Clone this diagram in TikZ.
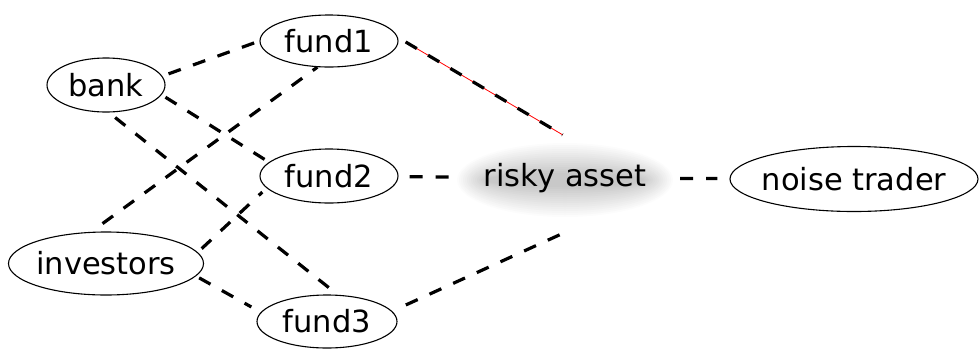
\documentclass[tikz,border=0pt]{standalone}
\usepackage{fontspec}
\setmainfont{DejaVu Sans}
\usetikzlibrary{shapes.geometric}
% a label that takes no width, so the ellipse size comes from the minimum sizes alone
\newcommand\flatlabel[1]{\makebox[0pt][c]{#1}}
\begin{document}
\begin{tikzpicture}[x=1bp,y=-1bp,
  lbl/.style={font=\fontsize{30.5bp}{36bp}\selectfont},
  actor/.style={ellipse, draw, line width=1.1bp, inner sep=0pt, lbl},
  fundbox/.style={actor, minimum width=138bp, minimum height=52bp},
  hub/.style={ellipse, inner sep=0pt, minimum width=230bp, minimum height=92bp, lbl},
  link/.style={line width=3.2bp, dash pattern=on 13bp off 13bp},
  tie/.style={red, line width=0.8bp}]
\useasboundingbox (0,0) rectangle (979,349);

% soft grey haze under the market node
\foreach \j in {0,...,15} {
  \pgfmathsetmacro\dk{21.6*(\j+1)/16}
  \pgfmathsetmacro\rx{108-2*\j}
  \pgfmathsetmacro\ry{37-2*\j}
  \fill[black!\dk] (565,180) ellipse [x radius=\rx bp, y radius=\ry bp];
}

% agents
\node[actor, minimum width=118bp, minimum height=54bp] (bank) at (106,85) {\flatlabel{bank}};
\node[actor, minimum width=195bp, minimum height=63bp] (investors) at (106,263.5) {\flatlabel{investors}};
\node[fundbox] (fund1) at (329,41) {\flatlabel{fund1}};
\node[fundbox, minimum height=54bp] (fund2) at (329,176) {\flatlabel{fund2}};
\node[fundbox, minimum width=140bp, minimum height=53bp] (fund3) at (327,321.5) {\flatlabel{fund3}};
\node[hub] (risky) at (565,178) {\flatlabel{risky asset}};
\node[actor, minimum width=248bp, minimum height=65bp] (noise) at (854,179) {\flatlabel{noise trader}};

% funding links
\draw[link, shorten <=6.6bp, shorten >=3.2bp] (bank.9) -- (fund1.180);
\draw[link, shorten <=4.5bp, shorten >=4.8bp] (bank.-10) -- (fund2.167);
\draw[link, shorten <=8bp, shorten >=8.8bp] (bank.-84) -- (fund3.68);
\draw[link, shorten <=14bp] (investors.115) -- (fund1.-114);
\draw[link, shorten <=5.3bp, shorten >=5.8bp] (investors.7.6) -- (fund2.-169);
\draw[link, shorten <=3.5bp, shorten >=10.8bp] (investors.-8) -- (fund3.172);

% trading links
\draw[tie, shorten <=9bp, shorten >=-5.7bp] (fund1.3) -- (risky.99.8);
\draw[link, shorten <=9bp, shorten >=-5.7bp] (fund1.3) -- (risky.99.8);
\draw[link, shorten <=11bp] (fund2) -- (risky);
\draw[link, shorten <=15bp, shorten >=23bp] (fund3.9) -- (risky.-67.4);
\draw[link, shorten >=12bp] (risky) -- (noise);
\end{tikzpicture}
\end{document}
